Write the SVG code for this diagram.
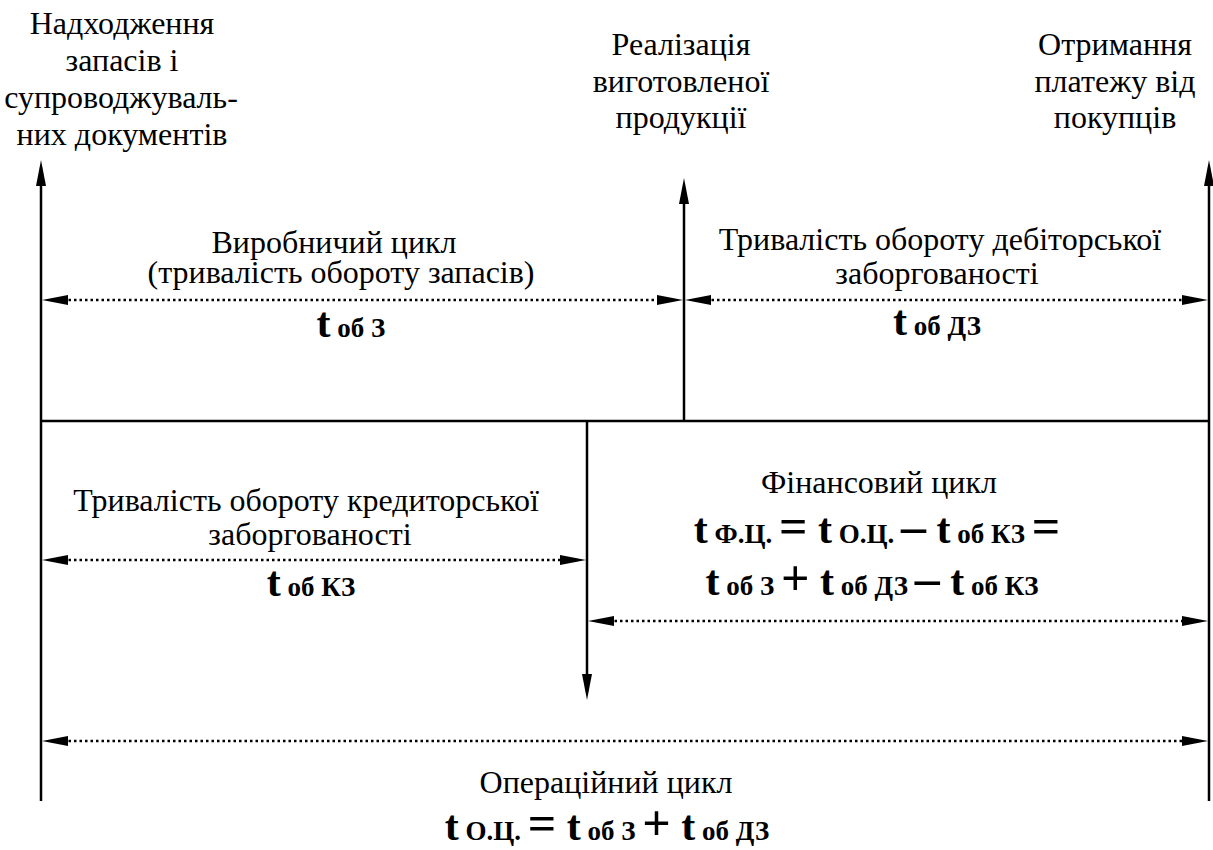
<svg xmlns="http://www.w3.org/2000/svg" width="1213" height="850" viewBox="0 0 1213 850" font-family="Liberation Serif">
<defs>
<marker id="ah" markerUnits="userSpaceOnUse" markerWidth="26" markerHeight="10" viewBox="0 0 26 10" refX="16" refY="5" orient="auto-start-reverse">
<path d="M0,0 L26,5 L0,10 Z" fill="#000"/>
</marker>
</defs>
<rect width="1213" height="850" fill="#fff"/>

<g id="connectors" fill="none" stroke="#000" stroke-width="2.5">
  <path d="M41,801 L41,170" marker-end="url(#ah)"/>
  <path d="M1209,801 L1209,170" marker-end="url(#ah)"/>
  <path d="M684,421 L684,188" marker-end="url(#ah)"/>
  <path d="M587,421 L587,690" marker-end="url(#ah)"/>
  <path d="M41,421 L1209,421"/>
  <path d="M52,300 L673,300" stroke-dasharray="2.5 3" marker-start="url(#ah)" marker-end="url(#ah)"/>
  <path d="M695,300 L1198,300" stroke-dasharray="2.5 3" marker-start="url(#ah)" marker-end="url(#ah)"/>
  <path d="M52,560 L576,560" stroke-dasharray="2.5 3" marker-start="url(#ah)" marker-end="url(#ah)"/>
  <path d="M598,621 L1198,621" stroke-dasharray="2.5 3" marker-start="url(#ah)" marker-end="url(#ah)"/>
  <path d="M52,741 L1198,741" stroke-dasharray="2.5 3" marker-start="url(#ah)" marker-end="url(#ah)"/>
</g>

<g id="event-supply">
  <text style="font-family:'Liberation Serif','Times New Roman',serif;font-size:32px" font-family="Liberation Serif" text-anchor="middle" x="122" y="34">Надходження</text>
  <text style="font-family:'Liberation Serif','Times New Roman',serif;font-size:32px" font-family="Liberation Serif" text-anchor="middle" x="122" y="71">запасів і</text>
  <text style="font-family:'Liberation Serif','Times New Roman',serif;font-size:32px" font-family="Liberation Serif" text-anchor="middle" x="121" y="108">супроводжуваль-</text>
  <text style="font-family:'Liberation Serif','Times New Roman',serif;font-size:32px" font-family="Liberation Serif" text-anchor="middle" x="122" y="145">них документів</text>
</g>
<g id="event-sale">
  <text style="font-family:'Liberation Serif','Times New Roman',serif;font-size:32px" font-family="Liberation Serif" text-anchor="middle" x="681" y="55">Реалізація</text>
  <text style="font-family:'Liberation Serif','Times New Roman',serif;font-size:32px" font-family="Liberation Serif" text-anchor="middle" x="681" y="92">виготовленої</text>
  <text style="font-family:'Liberation Serif','Times New Roman',serif;font-size:32px" font-family="Liberation Serif" text-anchor="middle" x="681" y="128">продукції</text>
</g>
<g id="event-payment">
  <text style="font-family:'Liberation Serif','Times New Roman',serif;font-size:32px" font-family="Liberation Serif" text-anchor="middle" x="1115" y="55">Отримання</text>
  <text style="font-family:'Liberation Serif','Times New Roman',serif;font-size:32px" font-family="Liberation Serif" text-anchor="middle" x="1115" y="92">платежу від</text>
  <text style="font-family:'Liberation Serif','Times New Roman',serif;font-size:32px" font-family="Liberation Serif" text-anchor="middle" x="1115" y="128">покупців</text>
</g>

<g id="production-cycle">
  <text style="font-family:'Liberation Serif','Times New Roman',serif;font-size:32px" font-family="Liberation Serif" text-anchor="middle" x="334" y="253">Виробничий цикл</text>
  <text style="font-family:'Liberation Serif','Times New Roman',serif;font-size:32px" font-family="Liberation Serif" text-anchor="middle" x="341" y="283">(тривалість обороту запасів)</text>
  <text style="font-family:'Liberation Serif','Times New Roman',serif;font-weight:bold" font-family="Liberation Serif" text-anchor="middle" x="351" y="337"><tspan font-size="42">t</tspan><tspan font-size="27"> об З</tspan></text>
</g>
<g id="receivables">
  <text style="font-family:'Liberation Serif','Times New Roman',serif;font-size:32px" font-family="Liberation Serif" text-anchor="middle" x="940" y="250">Тривалість обороту дебіторської</text>
  <text style="font-family:'Liberation Serif','Times New Roman',serif;font-size:32px" font-family="Liberation Serif" text-anchor="middle" x="937" y="284">заборгованості</text>
  <text style="font-family:'Liberation Serif','Times New Roman',serif;font-weight:bold" font-family="Liberation Serif" text-anchor="middle" x="937" y="335"><tspan font-size="42">t</tspan><tspan font-size="27"> об ДЗ</tspan></text>
</g>
<g id="payables">
  <text style="font-family:'Liberation Serif','Times New Roman',serif;font-size:32px" font-family="Liberation Serif" text-anchor="middle" x="306" y="511">Тривалість обороту кредиторської</text>
  <text style="font-family:'Liberation Serif','Times New Roman',serif;font-size:32px" font-family="Liberation Serif" text-anchor="middle" x="310" y="545">заборгованості</text>
  <text style="font-family:'Liberation Serif','Times New Roman',serif;font-weight:bold" font-family="Liberation Serif" text-anchor="middle" x="311" y="596"><tspan font-size="42">t</tspan><tspan font-size="27"> об КЗ</tspan></text>
</g>
<g id="financial-cycle">
  <text style="font-family:'Liberation Serif','Times New Roman',serif;font-size:32px" font-family="Liberation Serif" text-anchor="middle" x="879" y="493">Фінансовий цикл</text>
  <text style="font-family:'Liberation Serif','Times New Roman',serif;font-weight:bold" font-family="Liberation Serif" text-anchor="middle" x="877" y="543"><tspan font-size="42">t</tspan><tspan font-size="27"> Ф.Ц. </tspan><tspan font-size="50">=</tspan><tspan font-size="42"> t</tspan><tspan font-size="27"> О.Ц. </tspan><tspan font-size="50">–</tspan><tspan font-size="42"> t</tspan><tspan font-size="27"> об КЗ </tspan><tspan font-size="50">=</tspan></text>
  <text style="font-family:'Liberation Serif','Times New Roman',serif;font-weight:bold" font-family="Liberation Serif" text-anchor="middle" x="872" y="595"><tspan font-size="42">t</tspan><tspan font-size="27"> об З </tspan><tspan font-size="50">+</tspan><tspan font-size="42"> t</tspan><tspan font-size="27"> об ДЗ </tspan><tspan font-size="50">–</tspan><tspan font-size="42"> t</tspan><tspan font-size="27"> об КЗ</tspan></text>
</g>
<g id="operating-cycle">
  <text style="font-family:'Liberation Serif','Times New Roman',serif;font-size:32px" font-family="Liberation Serif" text-anchor="middle" x="606" y="793">Операційний цикл</text>
  <text style="font-family:'Liberation Serif','Times New Roman',serif;font-weight:bold" font-family="Liberation Serif" text-anchor="middle" x="607" y="840"><tspan font-size="42">t</tspan><tspan font-size="27"> О.Ц. </tspan><tspan font-size="50">=</tspan><tspan font-size="42"> t</tspan><tspan font-size="27"> об З </tspan><tspan font-size="50">+</tspan><tspan font-size="42"> t</tspan><tspan font-size="27"> об ДЗ</tspan></text>
</g>
</svg>
